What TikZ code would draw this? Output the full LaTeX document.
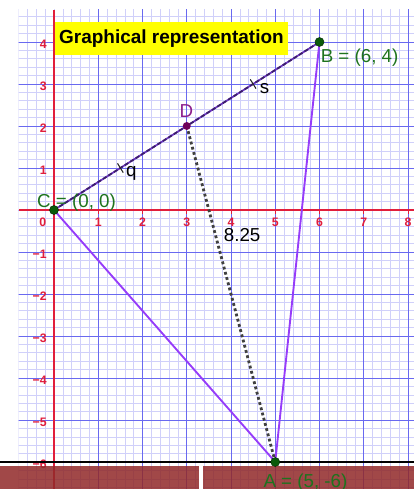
\documentclass[tikz,border=0pt]{standalone}
\usepackage{fontspec}
\setmainfont{Liberation Sans}
\usetikzlibrary{calc}
\definecolor{majgrid}{RGB}{105,105,240}
\definecolor{mingrid}{RGB}{208,208,250}
\definecolor{axisred}{RGB}{225,30,60}
\definecolor{tri}{RGB}{150,60,250}
\definecolor{seg}{RGB}{110,55,195}
\definecolor{ptgreen}{RGB}{10,90,10}
\definecolor{lblgreen}{RGB}{30,115,30}
\definecolor{ptpurple}{RGB}{110,0,90}
\definecolor{lblpurple}{RGB}{140,30,140}
\definecolor{barred}{RGB}{145,42,42}
\definecolor{banner}{RGB}{255,255,0}

\begin{document}
\begin{tikzpicture}[x=1.3275cm,y=1.26cm,
    pt/.style={circle,fill=ptgreen,draw=black!50!ptgreen,line width=0.4pt,inner sep=0pt,minimum size=0.27cm},
    ptd/.style={circle,fill=ptpurple,inner sep=0pt,minimum size=0.24cm},
    lbl/.style={font=\fontsize{16}{18}\selectfont,inner sep=0pt},
    ticklbl/.style={font=\fontsize{10.5}{12}\selectfont\bfseries,axisred,inner sep=0pt},
    triline/.style={tri,line width=1.6pt}]
    \useasboundingbox (-1.2203,-6.6429) rectangle (8.1356,5);
    % grid paper
    \begin{scope}
      \clip (-0.8,-6.6429) rectangle (8.1356,4.762);
      \foreach \gx in {-0.8,-0.6,...,8.1} \draw[mingrid,line width=0.5pt] (\gx,-6.7) -- (\gx,4.8);
      \foreach \gy in {-6.6,-6.4,...,4.8} \draw[mingrid,line width=0.5pt] (-0.9,\gy) -- (8.2,\gy);
      \foreach \gx in {1,...,8} \draw[majgrid,line width=0.7pt] (\gx,-6.7) -- (\gx,4.8);
      \foreach \gy in {-6,...,4} \draw[majgrid,line width=0.7pt] (-0.9,\gy) -- (8.2,\gy);
    \end{scope}
    % axes
    \draw[axisred,line width=1.2pt] (-0.8,0) -- (8.1356,0);
    \draw[axisred,line width=1.2pt] (0,-6.6429) -- (0,4.762);
    \foreach \n in {1,...,8}{
      \draw[axisred,line width=0.8pt] (\n,0) -- (\n,-0.09);
      \node[ticklbl] (xl\n) at (\n,-0.30) {\n};
    }
    \foreach \n in {1,...,4}
      \node[ticklbl,anchor=east] (yl\n) at (-0.16,\n-0.06) {\n};
    \foreach \n in {1,...,6}
      \node[ticklbl,anchor=east] (ym\n) at (-0.16,-\n-0.06) {−\n};
    \node[ticklbl] (xl0) at (-0.255,-0.30) {0};
    % title
    \node[fill=banner,font=\fontsize{16.2}{18}\selectfont\bfseries,inner xsep=0.12cm,
      minimum height=0.99cm,anchor=west] (title) at (0.02,4.083) {Graphical representation};
    % bottom strip
    \draw[black,line width=1.6pt] (-1.2203,-6) -- (8.1356,-6);
    \fill[barred,opacity=0.86] (-1.2203,-6.0952) rectangle (3.277,-6.6429);
    \fill[white] (3.277,-6.0952) rectangle (3.367,-6.6429);
    \fill[barred,opacity=0.86] (3.367,-6.0952) rectangle (8.1356,-6.6429);
    % points
    \coordinate (C) at (0,0);
    \coordinate (B) at (6,4);
    \coordinate (A) at (5,-6);
    \coordinate (D) at (3,2);
    \coordinate (qm) at ($(C)!0.5!(D)$);
    \coordinate (sm) at ($(D)!0.5!(B)$);
    % segments
    \draw[triline] (C) -- (A) -- (B);
    \draw[seg,line width=1.5pt] (C) -- (B);
    \draw[seg!55!black,line width=1.5pt,dash pattern=on 3.5pt off 2pt] (C) -- (B);
    \draw[black!75,line width=2.4pt,dash pattern=on 2.4pt off 2.2pt] (D) -- (A);
    \draw[black!85,line width=0.9pt] ($(qm)+(-0.065,0.11)$) -- ($(qm)+(0.065,-0.11)$);
    \draw[black!85,line width=0.9pt] ($(sm)+(-0.065,0.11)$) -- ($(sm)+(0.065,-0.11)$);
    % labels
    \node[lbl,lblgreen,anchor=base west] (Clbl) at (-0.384,0.048) {C = (0, 0)};
    \node[lbl,lblgreen,anchor=base west] (Blbl) at (6.023,3.517) {B = (6, 4)};
    \node[lbl,lblgreen,anchor=base west] (Albl) at (4.730,-6.60) {A = (5, -6)};
    \node[lbl,lblpurple,anchor=base] (Dlbl) at (2.994,2.214) {D};
    \node[lbl,anchor=base west] (dist) at (3.835,-0.755) {8.25};
    \node[lbl] (qlbl) at (1.747,0.864) {q};
    \node[lbl] (slbl) at (4.757,2.888) {s};
    % dots
    \node[pt] (Cdot) at (C) {};
    \node[pt] (Bdot) at (B) {};
    \node[pt] (Adot) at (A) {};
    \node[ptd] (Ddot) at (D) {};
  \end{tikzpicture}
\end{document}
